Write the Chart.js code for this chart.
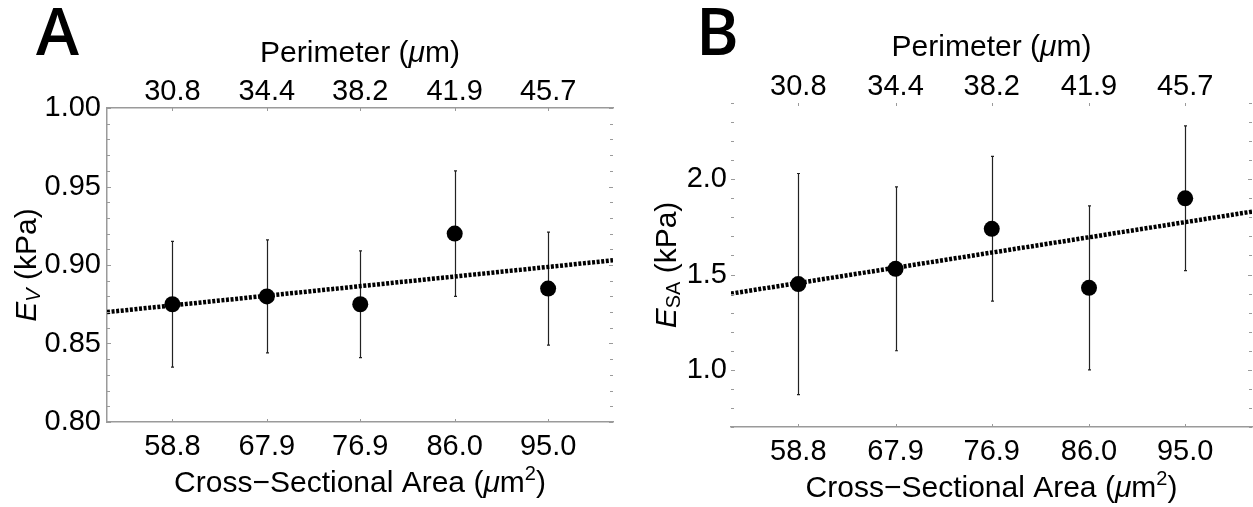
<!DOCTYPE html>
<html>
<head>
<meta charset="utf-8">
<script src="https://cdn.jsdelivr.net/npm/chart.js@4.4.1/dist/chart.umd.min.js"></script>
<style>
  html, body { margin: 0; padding: 0; background: #fff; }
  #wrap { position: relative; width: 1253px; height: 507px; overflow: hidden; }
  .panel { position: absolute; top: 0; }
</style>
</head>
<body>
<div id="wrap">
  <div class="panel" style="left:0px"><canvas id="panel-a" width="626" height="507"></canvas></div>
  <div class="panel" style="left:626px"><canvas id="panel-b" width="627" height="507"></canvas></div>
</div>
<script>
// shared x axis: cross-sectional area (bottom) and perimeter (top)
const areaTicks = [58.8, 67.9, 76.9, 86.0, 95.0];
const areaLabels = ["58.8", "67.9", "76.9", "86.0", "95.0"];
const perimeterLabels = ["30.8", "34.4", "38.2", "41.9", "45.7"];
const areaRange = [52.5, 101.25];

// panel A: E_V
const evMean = [0.875, 0.880, 0.875, 0.920, 0.885];
const evErr = [0.040, 0.036, 0.034, 0.040, 0.036];
const evFit = [0.870, 0.903];
const evRange = [0.80, 1.00];

// panel B: E_SA
const esaMean = [1.45, 1.53, 1.74, 1.43, 1.90];
const esaErr = [0.58, 0.43, 0.38, 0.43, 0.38];
const esaFit = [1.40, 1.83];
const esaRange = [0.7, 2.4];

const FONT = "'Liberation Sans', Arial, sans-serif";
const AXIS_GRAY = "#9a9a9a";

// error bars under the points
const errorBarPlugin = {
  id: "errorBars",
  beforeDatasetsDraw(chart, args, opts) {
    const ctx = chart.ctx;
    const xs = chart.scales.x, ys = chart.scales.y;
    ctx.save();
    ctx.strokeStyle = "#222";
    ctx.lineWidth = 1.2;
    for (let i = 0; i < opts.means.length; i++) {
      const x = Math.round(xs.getPixelForValue(areaTicks[i])) + 0.5;
      const yTop = ys.getPixelForValue(opts.means[i] + opts.errs[i]);
      const yBot = ys.getPixelForValue(opts.means[i] - opts.errs[i]);
      ctx.beginPath();
      ctx.moveTo(x, yTop);
      ctx.lineTo(x, yBot);
      ctx.moveTo(x - 1.5, yTop);
      ctx.lineTo(x + 1.5, yTop);
      ctx.moveTo(x - 1.5, yBot);
      ctx.lineTo(x + 1.5, yBot);
      ctx.stroke();
    }
    ctx.restore();
  }
};

// small inward tick marks on all four sides
const frameTicksPlugin = {
  id: "frameTicks",
  afterDraw(chart, args, opts) {
    const ctx = chart.ctx;
    const a = chart.chartArea;
    const ys = chart.scales.y, xs = chart.scales.x;
    ctx.save();
    ctx.strokeStyle = AXIS_GRAY;
    ctx.lineWidth = 1;
    ys.ticks.forEach(t => {
      const y = Math.round(ys.getPixelForValue(t.value)) + 0.5;
      const len = opts.isMajor(t.value) ? 4 : 3;
      ctx.beginPath();
      ctx.moveTo(a.left, y);
      ctx.lineTo(a.left + len, y);
      ctx.moveTo(a.right, y);
      ctx.lineTo(a.right - len, y);
      ctx.stroke();
    });
    areaTicks.forEach(v => {
      const x = Math.round(xs.getPixelForValue(v)) + 0.5;
      ctx.beginPath();
      ctx.moveTo(x, a.top);
      ctx.lineTo(x, a.top + 3);
      ctx.moveTo(x, a.bottom);
      ctx.lineTo(x, a.bottom - 3);
      ctx.stroke();
    });
    ctx.restore();
  }
};

// draws a run of text pieces with mixed style, centred on (x, y)
const drawRich = (ctx, parts, x, y) => {
  const fontOf = p => (p.italic ? "italic " : "") + p.size + "px " + FONT;
  let total = 0;
  parts.forEach(p => { ctx.font = fontOf(p); total += ctx.measureText(p.t).width; });
  let cx = x - total / 2;
  ctx.textAlign = "left";
  ctx.textBaseline = "alphabetic";
  parts.forEach(p => {
    ctx.font = fontOf(p);
    ctx.fillText(p.t, cx, y + (p.dy || 0));
    cx += ctx.measureText(p.t).width;
  });
};

const titlesPlugin = {
  id: "titles",
  afterDraw(chart, args, opts) {
    const ctx = chart.ctx;
    const a = chart.chartArea;
    const midX = (a.left + a.right) / 2;
    const midY = (a.top + a.bottom) / 2;
    ctx.save();
    ctx.fillStyle = "#000";

    ctx.font = "600 65px 'Open Sans', 'Noto Sans', sans-serif";
    ctx.textAlign = "left";
    ctx.textBaseline = "alphabetic";
    ctx.fillText(opts.letter, opts.letterX, 55);

    drawRich(ctx, [
      {t: "Perimeter (", size: 30},
      {t: "\u03bc", size: 30, italic: true},
      {t: "m)", size: 30}
    ], midX, a.top - opts.topGap);

    drawRich(ctx, [
      {t: "Cross\u2212Sectional Area (", size: 30},
      {t: "\u03bc", size: 30, italic: true},
      {t: "m", size: 30},
      {t: "2", size: 20, dy: -12},
      {t: ")", size: 30}
    ], midX, a.bottom + opts.bottomGap);

    ctx.translate(opts.yTitleX, midY);
    ctx.rotate(-Math.PI / 2);
    drawRich(ctx, opts.yTitle, 0, 0);
    ctx.restore();
  }
};

const makePanel = (id, p) => {
  let chartStatus = Chart.getChart(id);
  if (chartStatus != undefined) {
    chartStatus.destroy();
  }

  const xScale = (position, labels, height, showBorder, pad) => ({
    type: "linear",
    position: position,
    min: areaRange[0],
    max: areaRange[1],
    afterBuildTicks: s => { s.ticks = areaTicks.map(v => ({value: v})); },
    afterFit: s => { s.height = height; },
    grid: { display: false, drawTicks: false },
    border: { display: showBorder, color: AXIS_GRAY, width: 1.5 },
    ticks: {
      autoSkip: false,
      maxRotation: 0,
      padding: pad,
      color: "#000",
      font: { family: FONT, size: 29 },
      callback: (v, i) => labels[i]
    }
  });

  new Chart(id, {
    data: {
      datasets: [
        {
          type: "scatter",
          data: p.means.map((m, i) => ({x: areaTicks[i], y: m})),
          backgroundColor: "#000",
          borderWidth: 0,
          pointRadius: 8,
          pointHoverRadius: 8,
        },
        {
          type: "line",
          data: [{x: areaRange[0], y: p.fit[0]}, {x: areaRange[1], y: p.fit[1]}],
          borderColor: "#000",
          borderWidth: 4.5,
          borderDash: [3, 1.6],
          borderCapStyle: "butt",
          pointRadius: 0,
          fill: false,
        },
      ]
    },
    options: {
      responsive: false,
      animation: false,
      events: [],
      layout: { autoPadding: false, padding: { left: 0, top: 0, bottom: 0, right: p.rightPad } },
      scales: {
        x: xScale("bottom", areaLabels, p.bottomH, true, 8),
        x2: xScale("top", perimeterLabels, p.topH, p.topBorder, -1),
        y: {
          type: "linear",
          position: "left",
          min: p.range[0],
          max: p.range[1],
          afterFit: s => { s.width = p.leftW; },
          grid: { display: false, drawTicks: false },
          border: { display: p.leftBorder, color: AXIS_GRAY, width: 1.5 },
          ticks: {
            stepSize: p.minorStep,
            autoSkip: false,
            padding: p.yPad,
            color: "#000",
            font: { family: FONT, size: 29 },
            callback: v => p.isMajor(v) ? v.toFixed(p.digits) : ""
          }
        }
      },
      plugins: {
        legend: { display: false },
        tooltip: { enabled: false },
        errorBars: { means: p.means, errs: p.errs },
        frameTicks: { isMajor: p.isMajor },
        titles: {
          letter: p.letter,
          letterX: p.letterX,
          topGap: p.topGap,
          bottomGap: 70,
          yTitleX: p.yTitleX,
          yTitle: p.yTitle
        }
      }
    },
    plugins: [errorBarPlugin, frameTicksPlugin, titlesPlugin]
  });
};

makePanel("panel-a", {
  means: evMean, errs: evErr, fit: evFit, range: evRange,
  minorStep: 0.01, digits: 2,
  isMajor: v => Math.abs(v / 0.05 - Math.round(v / 0.05)) < 1e-6,
  leftW: 107, topH: 108, bottomH: 85, rightPad: 13,
  leftBorder: true, topBorder: true, yPad: 6,
  letter: "A", letterX: 36, topGap: 46, yTitleX: 36,
  yTitle: [
    {t: "E", size: 30, italic: true},
    {t: "V", size: 20, italic: true, dy: 4},
    {t: " (kPa)", size: 30}
  ]
});

makePanel("panel-b", {
  means: esaMean, errs: esaErr, fit: esaFit, range: esaRange,
  minorStep: 0.1, digits: 1,
  isMajor: v => Math.abs(v / 0.5 - Math.round(v / 0.5)) < 1e-6,
  leftW: 105, topH: 103, bottomH: 80, rightPad: 1,
  leftBorder: false, topBorder: false, yPad: 4,
  letter: "B", letterX: 70, topGap: 47, yTitleX: 50,
  yTitle: [
    {t: "E", size: 30, italic: true},
    {t: "SA", size: 20, dy: 4},
    {t: " (kPa)", size: 30}
  ]
});
</script>
</body>
</html>
